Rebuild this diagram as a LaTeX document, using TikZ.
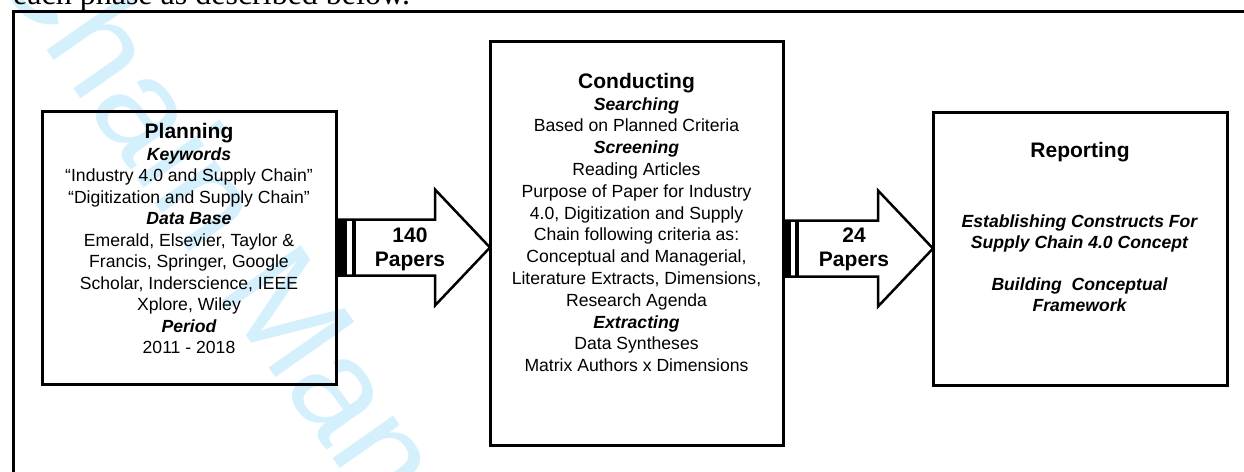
\documentclass[tikz,border=0pt]{standalone}
\usepackage{fontspec}
\setmainfont{Liberation Sans}
\newfontfamily\serifface{Liberation Serif}
\usetikzlibrary{calc}
\definecolor{wmcyan}{RGB}{212,240,252}
\newcommand\mytext[3]{\parbox[t]{#1}{\centering\fontsize{17.6}{#2}\selectfont\lineskiplimit=-100pt\relax #3}}
\newcommand\subhd[1]{{\bfseries\itshape #1}}
\newcommand\ttl[1]{{\fontsize{21}{21}\selectfont\bfseries #1}}
\tikzset{
  phase/.style={draw, line width=3pt, rectangle, inner sep=0pt, outer sep=0pt},
  txt/.style={anchor=base, inner sep=0pt, outer sep=0pt},
  blockarrow/.style={draw, line width=2.5pt, line join=miter},
  wm/.style={anchor=base west, inner sep=0pt, outer sep=0pt, rotate=-55, text=wmcyan, font=\fontsize{140}{140}\selectfont},
  frameline/.style={draw, line width=2.5pt}
}
\begin{document}
\begin{tikzpicture}[x=1pt,y=-1pt]
\useasboundingbox (0,0) rectangle (1244,471);
\begin{scope}
\clip (0,0) rectangle (1244,471);
\node[wm] (wm) at (-16,-40) {Chain Management};
\node[anchor=base west, inner sep=0pt, font=\serifface\fontsize{32}{32}\selectfont] (intro) at (13,5) {each phase as described below.};
\draw[frameline] (13.3,11.7) rectangle (1270,500);
\end{scope}

\node[phase, minimum width=294pt, minimum height=273pt] (plan) at (189,247.5) {};
\node[phase, minimum width=293pt, minimum height=404pt] (cond) at (636.5,243) {};
\node[phase, minimum width=294pt, minimum height=273pt] (rep) at (1080,248.5) {};

\node[txt] (plantext) at (189,138.5) {\mytext{290pt}{21.5pt}{\ttl{Planning}\\
\subhd{Keywords}\\
“Industry 4.0 and Supply Chain”\\
“Digitization and Supply Chain”\\
\subhd{Data Base}\\
Emerald, Elsevier, Taylor \&\\
Francis, Springer, Google\\
Scholar, Inderscience, IEEE\\
Xplore, Wiley\\
\subhd{Period}\\
2011 - 2018}};

\node[txt] (condtext) at (636.5,88.3) {\mytext{290pt}{21.8pt}{\ttl{Conducting}\\
\subhd{Searching}\\
Based on Planned Criteria\\
\subhd{Screening}\\
Reading Articles\\
Purpose of Paper for Industry\\
4.0, Digitization and Supply\\
Chain following criteria as:\\
Conceptual and Managerial,\\
Literature Extracts, Dimensions,\\
Research Agenda\\
\subhd{Extracting}\\
Data Syntheses\\
Matrix Authors x Dimensions}};

\node[txt] (reptitle) at (1080,157.3) {\mytext{290pt}{21pt}{\ttl{Reporting}}};
\node[txt] (reptext) at (1079.5,227.3) {\mytext{290pt}{21.2pt}{\bfseries\itshape Establishing Constructs For\\
Supply Chain 4.0 Concept\\[21pt]
Building\ \ Conceptual\\
Framework}};

% arrow 1
\coordinate (a1s) at (plan.east);
\coordinate (a1t) at (cond.west |- plan.east);
\fill ($(a1s)+(0,-28)$) rectangle ($(a1s)+(11,28)$);
\fill ($(a1s)+(15.5,-28)$) rectangle ($(a1s)+(19.5,28)$);
\draw[blockarrow] ($(a1s)+(0,-28)$) -- ($(a1t)+(-55,-28)$) -- ($(a1t)+(-55,-58)$) -- (a1t) -- ($(a1t)+(-55,58)$) -- ($(a1t)+(-55,28)$) -- ($(a1s)+(0,28)$);
\node[txt] (lab1) at (410,242.7) {\parbox[t]{90pt}{\centering\fontsize{21}{24}\selectfont\bfseries 140\\Papers}};

% arrow 2
\coordinate (a2t) at (rep.west);
\coordinate (a2s) at (cond.east |- rep.west);
\fill ($(a2s)+(0,-28)$) rectangle ($(a2s)+(7.5,28)$);
\fill ($(a2s)+(11.7,-28)$) rectangle ($(a2s)+(16.3,28)$);
\draw[blockarrow] ($(a2s)+(0,-28)$) -- ($(a2t)+(-55,-28)$) -- ($(a2t)+(-55,-58)$) -- (a2t) -- ($(a2t)+(-55,58)$) -- ($(a2t)+(-55,28)$) -- ($(a2s)+(0,28)$);
\node[txt] (lab2) at (854,242.7) {\parbox[t]{90pt}{\centering\fontsize{21}{24}\selectfont\bfseries 24\\Papers}};
\end{tikzpicture}
\end{document}
